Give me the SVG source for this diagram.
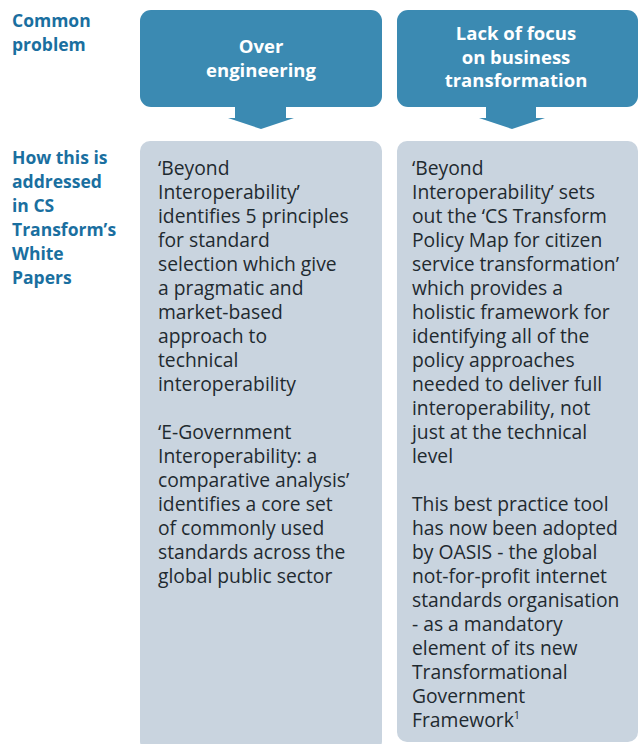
<svg xmlns="http://www.w3.org/2000/svg" width="639" height="744" viewBox="0 0 639 744">
<style>
.lbl{font-family:"Open Sans","Noto Sans",sans-serif;font-weight:bold;font-size:17.5px;fill:#1a6fa0}
.hdr{fill:#3b8ab2}
.ttl{font-family:"Open Sans","Noto Sans",sans-serif;font-weight:bold;font-size:18.5px;fill:#ffffff;text-anchor:middle}
.card{fill:#c9d4df}
.body{font-family:"Open Sans","Noto Sans",sans-serif;font-size:19.3px;fill:#1f2a30}
.arrow{fill:#3b8ab2}
</style>
<rect width="639" height="744" fill="#ffffff"/>
<g id="label-common">
<text class="lbl" x="12" y="27">Common</text>
<text class="lbl" x="12" y="51">problem</text>
</g>
<g id="label-how">
<text class="lbl" x="12" y="164">How this is</text>
<text class="lbl" x="12" y="188">addressed</text>
<text class="lbl" x="12" y="212">in CS</text>
<text class="lbl" x="12" y="236">Transform’s</text>
<text class="lbl" x="12" y="260">White</text>
<text class="lbl" x="12" y="284">Papers</text>
</g>
<g id="problem-1">
<rect class="hdr" x="140" y="10" width="242" height="97" rx="11"/>
<text class="ttl" x="261" y="53">Over</text>
<text class="ttl" x="261" y="77">engineering</text>
</g>
<g id="problem-2">
<rect class="hdr" x="397" y="10" width="241" height="97" rx="11"/>
<text class="ttl" x="516" y="40">Lack of focus</text>
<text class="ttl" x="516" y="63.5">on business</text>
<text class="ttl" x="516" y="87">transformation</text>
</g>
<g id="connectors">
<polygon class="arrow" points="235,106 286,106 286,118 294,118 261,129 228,118 235,118"/>
<polygon class="arrow" points="486,106 536,106 536,118 545,118 512,129 479,118 486,118"/>
</g>
<g id="answer-1">
<rect class="card" x="140" y="141" width="242" height="610" rx="10"/>
<text class="body" x="158" y="175">‘Beyond</text>
<text class="body" x="158" y="199">Interoperability’</text>
<text class="body" x="158" y="223">identifies 5 principles</text>
<text class="body" x="158" y="247">for standard</text>
<text class="body" x="158" y="271">selection which give</text>
<text class="body" x="158" y="295">a pragmatic and</text>
<text class="body" x="158" y="319">market-based</text>
<text class="body" x="158" y="343">approach to</text>
<text class="body" x="158" y="367">technical</text>
<text class="body" x="158" y="391">interoperability</text>
<text class="body" x="158" y="439">‘E-Government</text>
<text class="body" x="158" y="463">Interoperability: a</text>
<text class="body" x="158" y="487">comparative analysis’</text>
<text class="body" x="158" y="511">identifies a core set</text>
<text class="body" x="158" y="535">of commonly used</text>
<text class="body" x="158" y="559">standards across the</text>
<text class="body" x="158" y="583">global public sector</text>
</g>
<g id="answer-2">
<rect class="card" x="397" y="141" width="241" height="601" rx="10"/>
<text class="body" x="412" y="175">‘Beyond</text>
<text class="body" x="412" y="199">Interoperability’ sets</text>
<text class="body" x="412" y="223">out the ‘CS Transform</text>
<text class="body" x="412" y="247">Policy Map for citizen</text>
<text class="body" x="412" y="271">service transformation’</text>
<text class="body" x="412" y="295">which provides a</text>
<text class="body" x="412" y="319">holistic framework for</text>
<text class="body" x="412" y="343">identifying all of the</text>
<text class="body" x="412" y="367">policy approaches</text>
<text class="body" x="412" y="391">needed to deliver full</text>
<text class="body" x="412" y="415">interoperability, not</text>
<text class="body" x="412" y="439">just at the technical</text>
<text class="body" x="412" y="463">level</text>
<text class="body" x="412" y="511">This best practice tool</text>
<text class="body" x="412" y="535">has now been adopted</text>
<text class="body" x="412" y="559">by OASIS - the global</text>
<text class="body" x="412" y="583">not-for-profit internet</text>
<text class="body" x="412" y="607">standards organisation</text>
<text class="body" x="412" y="631">- as a mandatory</text>
<text class="body" x="412" y="655">element of its new</text>
<text class="body" x="412" y="679">Transformational</text>
<text class="body" x="412" y="703">Government</text>
<text class="body" x="412" y="727">Framework<tspan font-size="11" dy="-8">1</tspan></text>
</g>
</svg>
